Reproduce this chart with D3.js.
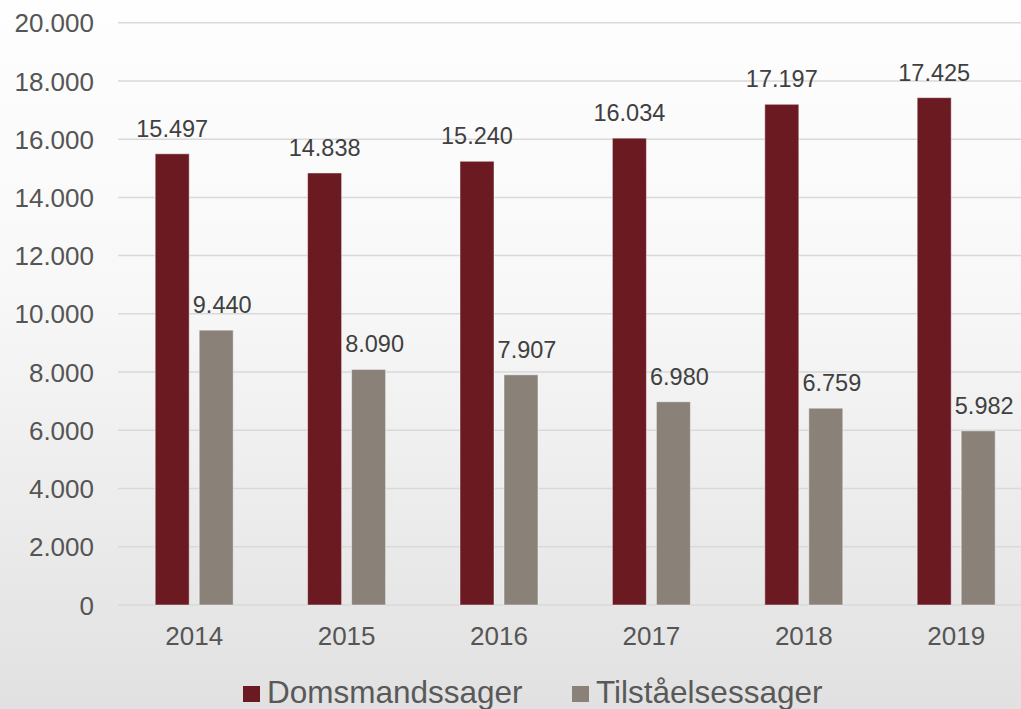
<!DOCTYPE html>
<html><head><meta charset="utf-8">
<script src="https://cdn.jsdelivr.net/npm/d3@7"></script>
<style>html,body{margin:0;padding:0;overflow:hidden;}svg{display:block;}</style>
</head><body>
<script>
const years = ["2014","2015","2016","2017","2018","2019"];
const domsmand = [15497, 14838, 15240, 16034, 17197, 17425];
const tilstaaelse = [9440, 8090, 7907, 6980, 6759, 5982];
const seriesNames = ["Domsmandssager", "Tilståelsessager"];
const seriesColors = ["#6b1a22", "#8a8278"];
const yTicks = [0,2000,4000,6000,8000,10000,12000,14000,16000,18000,20000];

const W = 1021, H = 709;
const svg = d3.select("body").append("svg").attr("width", W).attr("height", H);
const defs = svg.append("defs");
const grad = defs.append("linearGradient").attr("id","bg").attr("x1",0).attr("y1",0).attr("x2",0).attr("y2",1);
grad.append("stop").attr("offset","0%").attr("stop-color","#fefefe");
grad.append("stop").attr("offset","40%").attr("stop-color","#f8f8f8");
grad.append("stop").attr("offset","100%").attr("stop-color","#e1e1e1");
svg.append("rect").attr("width",W).attr("height",H).attr("fill","url(#bg)");

const fmt = v => d3.format(",")(v).replace(/,/g, ".");
const x0 = d3.scaleBand().domain(years).range([118, 1032.4]).paddingInner(0).paddingOuter(0);
const y = d3.scaleLinear().domain([0, 20000]).range([605, 22.7]);

// gridlines
svg.append("g").selectAll("line").data(yTicks).join("line")
  .attr("x1", 118).attr("x2", W).attr("y1", d => y(d)).attr("y2", d => y(d))
  .attr("stroke", "#d9d9d9").attr("stroke-width", 1.5);

// y axis labels
const yAxis = d3.axisLeft(y).tickValues(yTicks).tickSize(0).tickPadding(0).tickFormat(fmt);
const ya = svg.append("g").attr("transform","translate(94,0)").call(yAxis);
ya.select(".domain").remove();
ya.selectAll("text").attr("font-family","'Liberation Sans', Arial, sans-serif")
  .attr("font-size", 26).attr("fill", "#555555").attr("dy","0.35em");

// x axis labels
const xAxis = d3.axisBottom(x0).tickSize(0).tickPadding(0);
const xa = svg.append("g").attr("transform","translate(0,627)").call(xAxis);
xa.select(".domain").remove();
xa.selectAll("text").attr("font-family","'Liberation Sans', Arial, sans-serif")
  .attr("font-size", 26).attr("fill", "#555555").attr("dy","0.71em");

const barW = 34, gap = 10;
const series = [domsmand, tilstaaelse];
const labelOffset = [0, 6];
series.forEach((vals, si) => {
  const xOff = si === 0 ? -(gap/2 + barW) : gap/2;
  const g = svg.append("g");
  g.selectAll("rect").data(vals).join("rect")
    .attr("x", (d,i) => x0(years[i]) + x0.bandwidth()/2 + xOff)
    .attr("width", barW)
    .attr("y", d => y(d))
    .attr("height", d => y(0) - y(d))
    .attr("fill", seriesColors[si])
    .attr("stroke", "rgba(255,255,255,0.45)").attr("stroke-width", 1);
  g.selectAll("text").data(vals).join("text")
    .attr("x", (d,i) => x0(years[i]) + x0.bandwidth()/2 + xOff + barW/2 + labelOffset[si])
    .attr("y", d => y(d) - 17)
    .attr("text-anchor","middle")
    .attr("font-family","'Liberation Sans', Arial, sans-serif")
    .attr("font-size", 23.5).attr("fill", "#404040")
    .text(d => fmt(d));
});

// legend
const legend = svg.append("g");
const legX = [243, 572];
seriesNames.forEach((name, i) => {
  legend.append("rect").attr("x", legX[i]).attr("y", 686).attr("width", 17).attr("height", 16)
    .attr("fill", seriesColors[i]);
  legend.append("text").attr("x", legX[i] + 24).attr("y", 703)
    .attr("font-family","'Liberation Sans', Arial, sans-serif")
    .attr("font-size", 31.5).attr("fill", "#595959").text(name);
});
</script>
</body></html>
